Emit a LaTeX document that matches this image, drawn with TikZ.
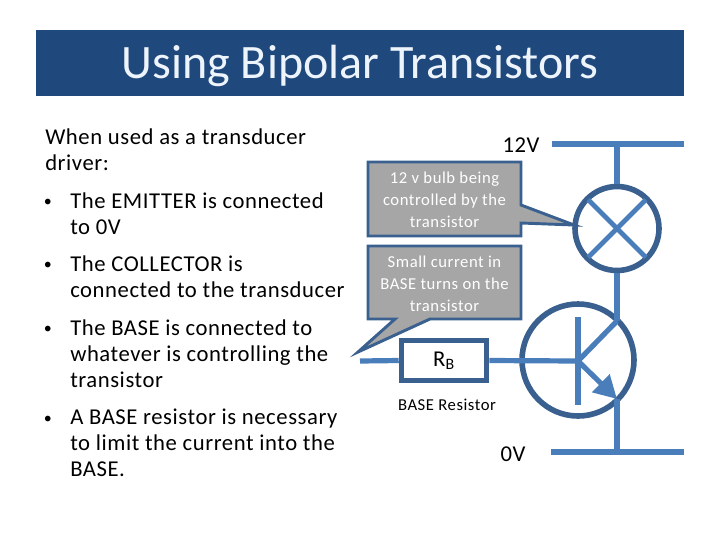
\documentclass[tikz,border=0pt]{standalone}
\usepackage{fontspec}
\setmainfont{Carlito}
\newfontfamily\bodyfont{Carlito}[LetterSpace=2.5]
\newfontfamily\notefont{Carlito}[LetterSpace=3.3]
\usetikzlibrary{positioning,calc,arrows.meta}
\definecolor{header}{HTML}{1F497D}
\definecolor{titletext}{HTML}{EEF4FC}
\definecolor{wireblue}{HTML}{4A7EBB}
\definecolor{ringblue}{HTML}{3A6090}
\definecolor{notefill}{HTML}{A6A6A6}
\tikzset{
  wire/.style={draw=wireblue, line width=3.9pt},
  ring/.style={circle, draw=ringblue, line width=4.2pt, inner sep=0pt},
  resbox/.style={rectangle, draw=ringblue, line width=3.9pt, inner sep=0pt, fill=white,
    minimum width=64pt, minimum height=30pt, font=\fontsize{17}{20}\selectfont},
  note/.style={draw=ringblue, fill=notefill, line width=2.2pt, line join=miter},
  noteLbl/.style={text=white, align=center, font=\notefont\fontsize{12.5}{16.5}\selectfont},
  bodyLbl/.style={anchor=north west, align=left, inner sep=0pt, font=\bodyfont\fontsize{17}{19.5}\selectfont},
  dotLbl/.style={anchor=base east, inner sep=0pt, font=\fontsize{12}{14}\selectfont},
  railLbl/.style={font=\bodyfont\fontsize{17}{20}\selectfont},
}
\begin{document}
\begin{tikzpicture}[x=0.75pt, y=-0.75pt]
  \useasboundingbox (0,0) rectangle (720,540);

  % title bar
  \fill[header] (36,30) rectangle (684,96);
  \node[text=titletext, font=\fontsize{36}{40}\selectfont] (title) at (360,66) {Using Bipolar Transistors};

  % left column
  \node[bodyLbl] (intro) at (45,128) {When used as a transducer\\driver:};
  \node[bodyLbl] (item1) at (70,192) {The EMITTER is connected\\to 0V};
  \node[bodyLbl] (item2) at (70,255) {The COLLECTOR is\\connected to the transducer};
  \node[bodyLbl] (item3) at (70,319) {The BASE is connected to\\whatever is controlling the\\transistor};
  \node[bodyLbl] (item4) at (70,409) {A BASE resistor is necessary\\to limit the current into the\\BASE.};
  \node[dotLbl] at (52,206) {•};
  \node[dotLbl] at (52,269) {•};
  \node[dotLbl] at (52,333) {•};
  \node[dotLbl] at (52,423) {•};

  % callouts
  \draw[note] (368,162) -- (521,162) -- (521,205) -- (574,225) -- (521,223)
    -- (521,236) -- (368,236) -- cycle;
  \node[noteLbl] (bulbnote) at (444.5,199.5) {12 v bulb being\\controlled by the\\transistor};
  \draw[note] (368,246) -- (521,246) -- (521,319) -- (430,319) -- (358,352)
    -- (395,319) -- (368,319) -- cycle;
  \node[noteLbl] (basenote) at (444.5,283.5) {Small current in\\BASE turns on the\\transistor};

  % supply rails
  \coordinate (topL) at (552,144);
  \coordinate (topR) at (684,144);
  \coordinate (topJ) at (617,144);
  \coordinate (botL) at (551,452);
  \coordinate (botR) at (684,452);
  \coordinate (botJ) at (617,452);
  \draw[wire] (topL) -- (topR);
  \draw[wire] (botL) -- (botR);
  \node[railLbl] (topLbl) at (521,145) {12V};
  \node[railLbl] (botLbl) at (513,454) {0V};

  % bulb
  \node[ring, minimum size=63pt] (bulb) at (617,228.5) {};
  \draw[wire, line width=3.6pt, shorten >=3pt, shorten <=3pt] (bulb.45) -- (bulb.225);
  \draw[wire, line width=3.6pt, shorten >=3pt, shorten <=3pt] (bulb.135) -- (bulb.315);
  \draw[wire] (topJ) -- (bulb.north);

  % transistor
  \node[ring, minimum size=84pt] (trans) at (578,360) {};
  \coordinate (base) at (578,361);
  \coordinate (coll) at (617,321);
  \coordinate (emit) at (617,399);
  \draw[wire] (578,317) -- (578,405);
  \draw[wire] (bulb.south) -- (coll);
  \draw[wire] (coll) -- (base);
  \draw[wire, -{Triangle[length=17pt,width=18pt]}] (base) -- (emit);
  \draw[wire] (emit) -- (botJ);

  % base resistor
  \coordinate (lead) at (360,361);
  \node[resbox] (rb) at (444,360.5) {R\textsubscript{B}};
  \draw[wire] (lead) -- (rb.west);
  \draw[wire] (rb.east) -- (base);
  \node[font=\notefont\fontsize{12.5}{15}\selectfont] (rbLbl) at (447,404.5) {BASE Resistor};
\end{tikzpicture}
\end{document}
